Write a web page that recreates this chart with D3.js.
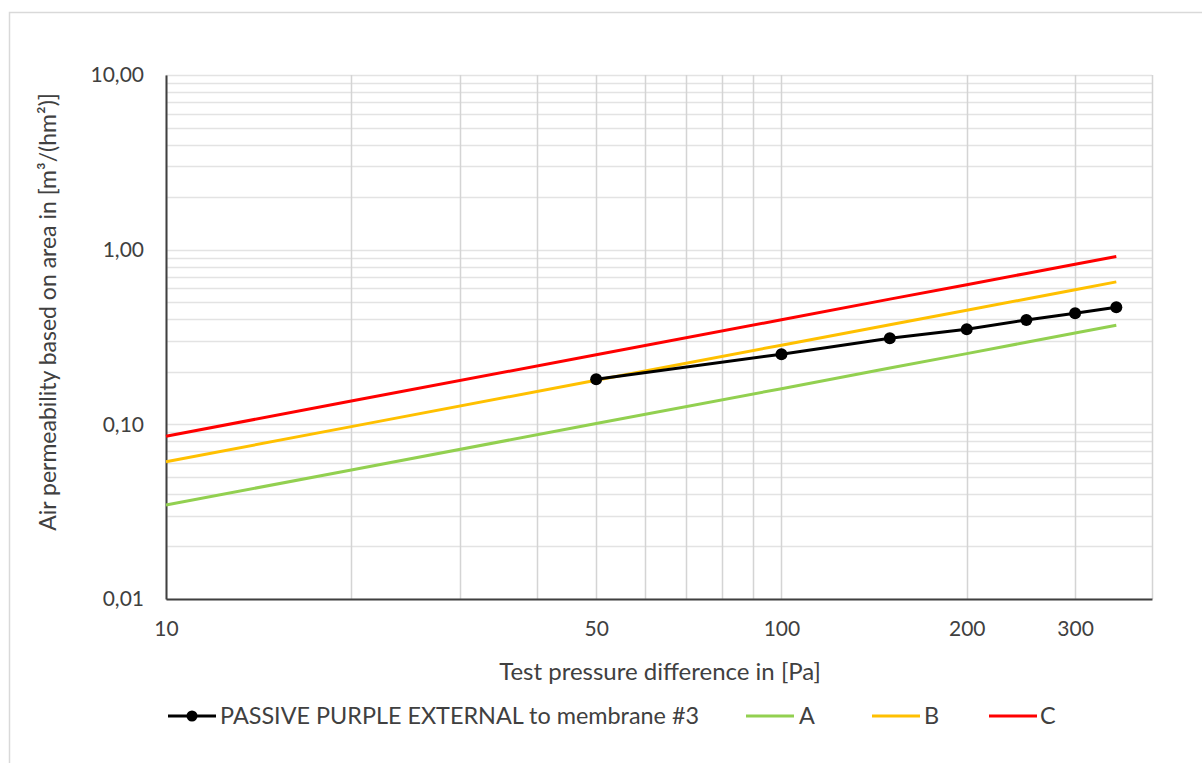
<!DOCTYPE html>
<html>
<head>
<meta charset="utf-8">
<script src="https://cdn.jsdelivr.net/npm/d3@7"></script>
<style>
  html, body { margin: 0; padding: 0; background: #fff; }
  svg { display: block; font-family: Lato, "Open Sans", sans-serif; }
</style>
</head>
<body>
<svg id="chart" width="1202" height="763"></svg>
<script>
// Pressure points (Pa) for the class limit lines
const classPressures = [10, 20, 50, 100, 150, 200, 250, 300, 350];
// Class limit curves, air permeability in m³/(h·m²)
const classA = [0.0345, 0.0548, 0.101, 0.160, 0.210, 0.254, 0.295, 0.333, 0.369];
const classB = [0.0611, 0.0970, 0.179, 0.284, 0.372, 0.450, 0.522, 0.590, 0.654];
const classC = [0.0855, 0.136, 0.250, 0.397, 0.521, 0.630, 0.731, 0.826, 0.915];

// Measured sample
const samplePressures = [50, 100, 150, 200, 250, 300, 350];
const sampleValues = [0.181, 0.252, 0.311, 0.350, 0.396, 0.432, 0.468];

// Axis ticks
const xTickValues = [10, 50, 100, 200, 300];
const xGridValues = [10, 20, 30, 40, 50, 60, 70, 80, 90, 100, 200, 300, 400];
const yTickValues = [0.01, 0.1, 1, 10];

const seriesNames = ["PASSIVE PURPLE EXTERNAL to membrane #3", "A", "B", "C"];
const seriesColors = ["#000000", "#92d050", "#ffc000", "#ff0000"];

const textColor = "#404040";
const svg = d3.select("#chart");

// chart frame
svg.append("rect")
  .attr("x", 9.5).attr("y", 12.5)
  .attr("width", 1300).attr("height", 900)
  .attr("fill", "none").attr("stroke", "#d9d9d9").attr("stroke-width", 1.5);

const plot = { left: 166, right: 1152, top: 75, bottom: 599 };

const x = d3.scaleLog().domain([10, 400]).range([plot.left, plot.right]);
const y = d3.scaleLog().domain([0.01, 10]).range([plot.bottom, plot.top]);

// horizontal gridlines: every 1..9 multiple within each decade
const yGrid = [];
[0.01, 0.1, 1].forEach(d => { for (let k = 1; k <= 9; k++) yGrid.push(d * k); });
yGrid.push(10);

const grid = svg.append("g");
grid.selectAll("line.h").data(yGrid).join("line")
  .attr("class", "h")
  .attr("x1", plot.left).attr("x2", plot.right)
  .attr("y1", d => Math.round(y(d)) + 0.5).attr("y2", d => Math.round(y(d)) + 0.5)
  .attr("stroke", "#e3e3e3").attr("stroke-width", 1.5);

grid.selectAll("line.v").data(xGridValues).join("line")
  .attr("class", "v")
  .attr("x1", d => Math.round(x(d)) + 0.5).attr("x2", d => Math.round(x(d)) + 0.5)
  .attr("y1", plot.top).attr("y2", plot.bottom)
  .attr("stroke", "#d4d4d4").attr("stroke-width", 1.5);

// axes
const fmtY = d => d.toFixed(2).replace(".", ",");

const xAxis = d3.axisBottom(x).tickValues(xTickValues).tickSize(0).tickPadding(22)
  .tickFormat(d => String(d));
const gx = svg.append("g").attr("transform", `translate(0,${plot.bottom})`).call(xAxis);
gx.select(".domain").attr("stroke", "#404040").attr("stroke-width", 2);
gx.selectAll("text").attr("font-size", 21).attr("font-family", "Lato").attr("fill", textColor);

const yAxis = d3.axisLeft(y).tickValues(yTickValues).tickSize(0).tickPadding(22)
  .tickFormat(fmtY);
const gy = svg.append("g").attr("transform", `translate(${plot.left},0)`).call(yAxis);
gy.select(".domain").attr("stroke", "#404040").attr("stroke-width", 2);
gy.selectAll("text").attr("font-size", 21).attr("font-family", "Lato").attr("fill", textColor);

// series
const line = d3.line().x(d => x(d[0])).y(d => y(d[1]));

const classSeries = [classA, classB, classC];
classSeries.forEach((vals, i) => {
  svg.append("path")
    .datum(classPressures.map((p, j) => [p, vals[j]]))
    .attr("d", line)
    .attr("fill", "none")
    .attr("stroke", seriesColors[i + 1])
    .attr("stroke-width", 3);
});

const samplePts = samplePressures.map((p, j) => [p, sampleValues[j]]);
svg.append("path")
  .datum(samplePts)
  .attr("d", line)
  .attr("fill", "none")
  .attr("stroke", "#000")
  .attr("stroke-width", 3);
svg.selectAll("circle.pt").data(samplePts).join("circle")
  .attr("class", "pt")
  .attr("cx", d => x(d[0])).attr("cy", d => y(d[1]))
  .attr("r", 6).attr("fill", "#000");

// axis titles
svg.append("text")
  .attr("x", 660).attr("y", 680)
  .attr("text-anchor", "middle")
  .attr("font-size", 24).attr("fill", textColor)
  .text("Test pressure difference in [Pa]");

svg.append("text")
  .attr("transform", `translate(56,${(plot.top + plot.bottom) / 2 - 25}) rotate(-90)`)
  .attr("text-anchor", "middle")
  .attr("font-size", 23).attr("fill", textColor)
  .text("Air permeability based on area in [m³/(hm²)]");

// legend
const legendY = 716;
const legendItems = [
  { x: 168, textX: 220 },
  { x: 746, textX: 799 },
  { x: 872, textX: 924 },
  { x: 989, textX: 1040 }
];
const lg = svg.append("g");
legendItems.forEach((it, i) => {
  lg.append("line")
    .attr("x1", it.x).attr("x2", it.x + 48)
    .attr("y1", legendY).attr("y2", legendY)
    .attr("stroke", seriesColors[i]).attr("stroke-width", 3);
  if (i === 0) {
    lg.append("circle").attr("cx", it.x + 24).attr("cy", legendY).attr("r", 5.5).attr("fill", "#000");
  }
  lg.append("text")
    .attr("x", it.textX).attr("y", legendY + 8)
    .attr("font-size", 23.4).attr("fill", textColor)
    .text(seriesNames[i]);
});
</script>
</body>
</html>
